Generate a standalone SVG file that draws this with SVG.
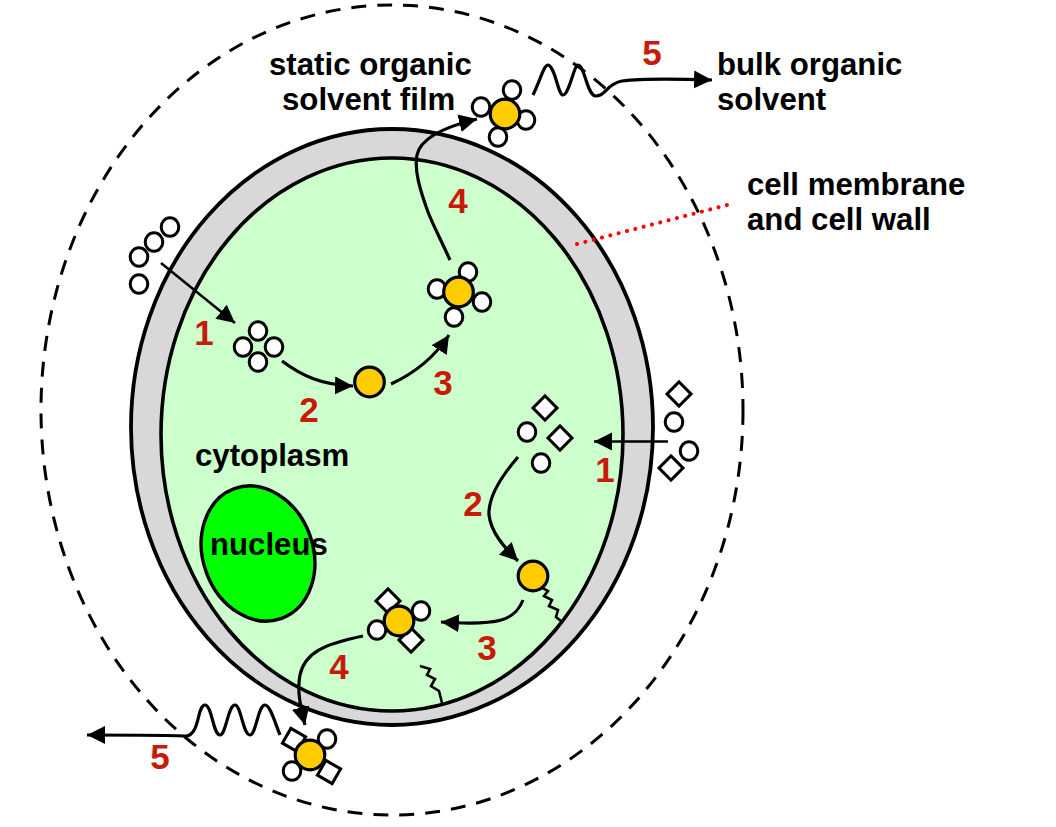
<svg xmlns="http://www.w3.org/2000/svg" width="1056" height="827" viewBox="0 0 1056 827">
<style>
.lbl{font-family:"Liberation Sans",Arial,sans-serif;font-weight:700;font-size:31.200px;fill:#000}
.num{font-family:"Liberation Sans",Arial,sans-serif;font-weight:700;font-size:35px;fill:#c81a08;text-anchor:middle}
.w{fill:#fff;stroke:#000;stroke-width:3}
.o{fill:#ffcc00;stroke:#000;stroke-width:3.200}
.c{fill:none;stroke:#000;stroke-width:3.200}
.n{fill:none;stroke:#000;stroke-width:2.500}
.t{fill:none;stroke:#000;stroke-width:2.600}
</style>
<defs>
<marker id="a" markerUnits="userSpaceOnUse" markerWidth="22" markerHeight="20" refX="18" refY="9" orient="auto"><path d="M0 0L18 9L0 18Z" fill="#000"/></marker>
<ellipse id="e" rx="8.800" ry="9.300" class="w"/>
<rect id="d" x="-8.500" y="-8.500" width="17" height="17" class="w" transform="rotate(45)"/>
</defs>
<rect width="1056" height="827" fill="#fff"/>
<g id="solvent-film"><ellipse cx="392" cy="410" rx="351" ry="405" fill="none" stroke="#000" stroke-width="3" stroke-dasharray="15 11"/></g>
<g id="cell"><ellipse cx="392" cy="427" rx="261" ry="298" fill="#d8d8d8" stroke="#000" stroke-width="3.800"/>
<ellipse cx="392" cy="434.500" rx="231" ry="276.500" fill="#ccffcc" stroke="#000" stroke-width="3.600"/></g>
<g id="nucleus"><ellipse cx="258" cy="553.500" rx="55" ry="69" transform="rotate(-20 258 553.500)" fill="#00ff00" stroke="#000" stroke-width="3.400"/></g>
<g id="connectors">
<path d="M161 263L235 323" class="n" marker-end="url(#a)"/>
<path d="M282 361C302 376 322 385 353 386" class="c" marker-end="url(#a)"/>
<path d="M391 384C415 373 434 358 449 335" class="c" marker-end="url(#a)"/>
<path d="M450 260C441 240 433 225 428 212C420 190 414 170 417 155C420 140 440 128 477 119" class="c" marker-end="url(#a)"/>
<path d="M533 95C541 78 544 65 548 65C555 66 558 95 563 95C569 95 574 65 578 65C585 66 587 96 596 96C606 96 606 84 622 81C645 78 680 79 712 80" class="c" marker-end="url(#a)"/>
<path d="M668 441.500H594" class="n" marker-end="url(#a)"/>
<path d="M518 457C505 472 488 495 489 515C491 532 503 546 518 561" class="c" marker-end="url(#a)"/>
<path d="M523 600C515 620 500 626 441 622" class="c" marker-end="url(#a)"/>
<path d="M363 636C325 644 305 652 300 675C297 690 300 705 305 725" class="c" marker-end="url(#a)"/>
<path d="M280 735C274 720 270 705 265 705C258 705 256 735 250 735C243 735 241 705 235 705C228 705 226 735 220 735C213 735 212 705 205 705C197 705 200 735 186 736C170 735 130 735 87 735" class="c" marker-end="url(#a)"/>
<path d="M541 587L548 591L544 596L552 600L549 606L558 610L556 617L561 621" class="t"/>
<path d="M420 666L430 669L427 675L435 679L431 686L439 691L442 703" class="t"/>
</g>
<g id="substrate-circles"><use href="#e" x="139" y="257"/><use href="#e" x="154" y="242"/><use href="#e" x="170" y="227"/><use href="#e" x="139" y="284"/></g>
<g id="enzyme-substrates-1"><use href="#e" x="258" y="331"/><use href="#e" x="243" y="347"/><use href="#e" x="274" y="347"/><use href="#e" x="258" y="362"/></g>
<g id="enzyme-a"><circle cx="369.500" cy="382" r="14.800" class="o"/></g>
<g id="complex-a"><use href="#e" x="468" y="272"/><use href="#e" x="437" y="289"/><use href="#e" x="482" y="302"/><use href="#e" x="454" y="317"/><circle cx="458.500" cy="292" r="14.800" class="o"/></g>
<g id="complex-a-out"><use href="#e" x="512" y="90"/><use href="#e" x="481" y="107"/><use href="#e" x="526" y="120"/><use href="#e" x="498" y="137"/><circle cx="505" cy="114" r="14.800" class="o"/></g>
<g id="substrate-mixed"><use href="#d" x="679" y="394"/><use href="#e" x="674" y="422"/><use href="#e" x="689" y="451"/><use href="#d" x="671" y="468"/></g>
<g id="enzyme-substrates-2"><use href="#d" x="545" y="408"/><use href="#e" x="527" y="432"/><use href="#d" x="560" y="438"/><use href="#e" x="541" y="463"/></g>
<g id="enzyme-b"><circle cx="533" cy="576" r="14.800" class="o"/></g>
<g id="complex-b"><use href="#d" x="388" y="601"/><use href="#e" x="421" y="611"/><use href="#e" x="377" y="630"/><use href="#d" x="411" y="640"/><circle cx="399" cy="621" r="14.800" class="o"/></g>
<g id="complex-b-out"><rect x="-8.500" y="-8.500" width="17" height="17" class="w" transform="translate(294 740) rotate(30)"/><use href="#e" x="327" y="739"/><use href="#e" x="292" y="771"/><rect x="-8.500" y="-8.500" width="17" height="17" class="w" transform="translate(329 772) rotate(30)"/><circle cx="310" cy="755" r="14.800" class="o"/></g>
<g id="membrane-pointer"><path d="M577 244L735 203" fill="none" stroke="#ff0000" stroke-width="4" stroke-linecap="round" stroke-dasharray="0.1 8.500"/></g>
<g id="labels">
<text class="lbl" x="269" y="75">static organic</text>
<text class="lbl" x="282" y="110">solvent film</text>
<text class="lbl" x="717" y="75">bulk organic</text>
<text class="lbl" x="717" y="110">solvent</text>
<text class="lbl" x="747" y="195">cell membrane</text>
<text class="lbl" x="747" y="230">and cell wall</text>
<text class="lbl" x="195" y="466">cytoplasm</text>
<text class="lbl" x="210" y="555">nucleus</text>
</g>
<g id="steps">
<text class="num" x="652" y="65">5</text><text class="num" x="458" y="213">4</text><text class="num" x="204" y="345">1</text><text class="num" x="309" y="422">2</text><text class="num" x="443" y="395">3</text><text class="num" x="605" y="482">1</text><text class="num" x="473" y="516">2</text><text class="num" x="487" y="660">3</text><text class="num" x="339" y="679">4</text><text class="num" x="160" y="769">5</text>
</g>
</svg>
